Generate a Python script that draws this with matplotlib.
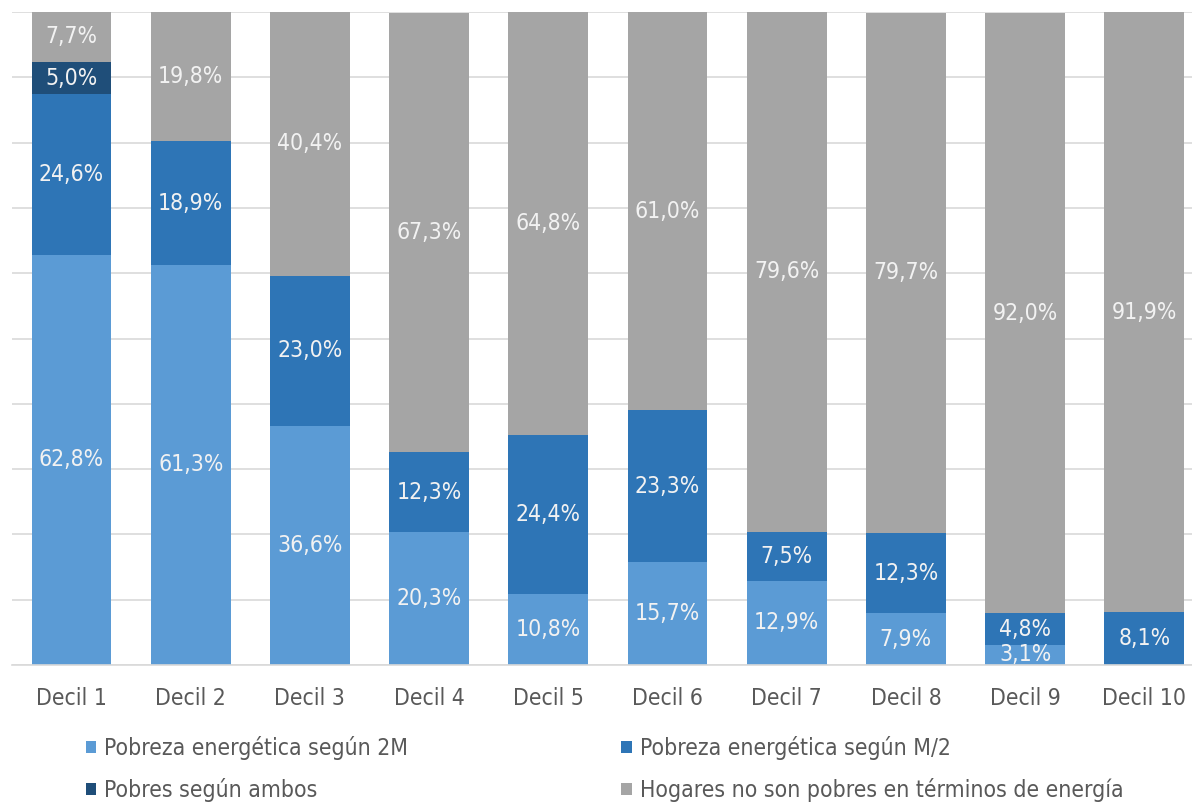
import matplotlib.pyplot as plt
import numpy as np

plt.rcParams['font.family'] = ['DejaVu Sans']
plt.rcParams['font.stretch'] = 'condensed'

deciles = ['Decil 1', 'Decil 2', 'Decil 3', 'Decil 4', 'Decil 5',
           'Decil 6', 'Decil 7', 'Decil 8', 'Decil 9', 'Decil 10']
pobreza_2m = [62.8, 61.3, 36.6, 20.3, 10.8, 15.7, 12.9, 7.9, 3.1, 0.0]
pobreza_m2 = [24.6, 18.9, 23.0, 12.3, 24.4, 23.3, 7.5, 12.3, 4.8, 8.1]
pobres_ambos = [5.0, 0, 0, 0, 0, 0, 0, 0, 0, 0]
no_pobres = [7.7, 19.8, 40.4, 67.3, 64.8, 61.0, 79.6, 79.7, 92.0, 91.9]

series = [
    ('Pobreza energética según 2M', pobreza_2m, '#5b9bd5'),
    ('Pobreza energética según M/2', pobreza_m2, '#2e75b6'),
    ('Pobres según ambos', pobres_ambos, '#1f4e79'),
    ('Hogares no son pobres en términos de energía', no_pobres, '#a5a5a5'),
]

fig = plt.figure(figsize=(11.92, 8.07), dpi=100)
ax = fig.add_axes([0.01, 0.176, 0.99, 0.809])

x = np.arange(len(deciles))
bottom = np.zeros(len(deciles))
handles = {}
for name, vals, color in series:
    vals = np.array(vals, dtype=float)
    bars = ax.bar(x, vals, 0.67, bottom=bottom, color=color, zorder=2, label=name)
    handles[name] = bars
    for xi, b, v in zip(x, bottom, vals):
        if v > 0:
            ax.text(xi, b + v / 2, f'{v:.1f}%'.replace('.', ','), ha='center', va='center',
                    color='#f2f2f2', fontsize=16.5, zorder=3)
    bottom += vals

ax.set_xlim(-0.5, 9.4)
ax.set_ylim(0, 100)
ax.set_yticks(np.arange(0, 101, 10))
ax.yaxis.grid(True, color='#d9d9d9', linewidth=1.2, zorder=0)
ax.tick_params(axis='y', left=False, labelleft=False)
ax.tick_params(axis='x', length=0, pad=16, labelsize=16.5, labelcolor='#595959')
ax.set_xticks(x)
ax.set_xticklabels(deciles)
for s in ['top', 'right', 'left']:
    ax.spines[s].set_visible(False)
ax.spines['bottom'].set_color('#d9d9d9')
ax.spines['bottom'].set_linewidth(1.2)

order = ['Pobreza energética según 2M', 'Pobres según ambos',
         'Pobreza energética según M/2', 'Hogares no son pobres en términos de energía']
fig.legend([handles[n] for n in order], order, ncol=2, loc='upper left',
           bbox_to_anchor=(0.072, 0.088), frameon=False, fontsize=16.5,
           handlelength=0.45, handleheight=0.45, handletextpad=0.35,
           columnspacing=9.3, labelspacing=0.8, labelcolor='#595959',
           borderaxespad=0, borderpad=0)

plt.savefig('out.png', dpi=100)
